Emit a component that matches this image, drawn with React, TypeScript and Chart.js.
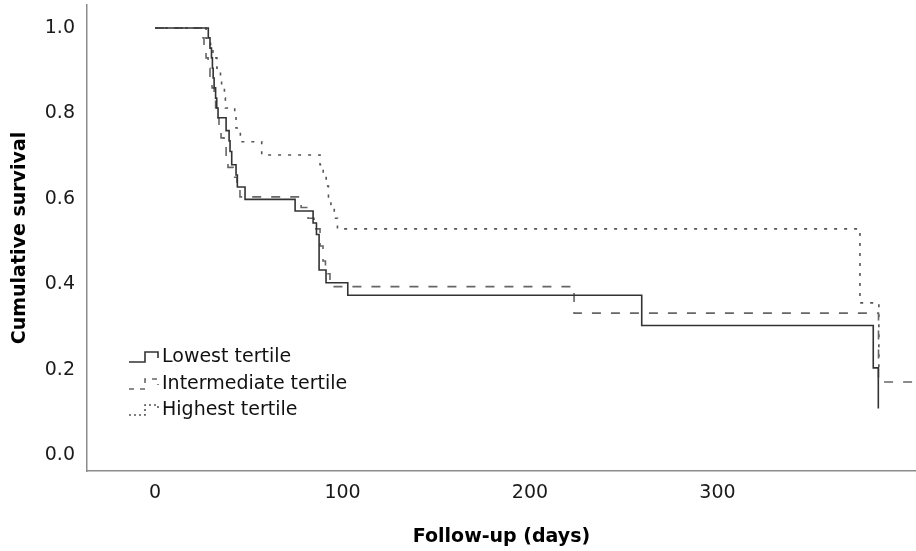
import React, { useEffect, useRef } from 'react';
import { Chart, registerables } from 'chart.js';

Chart.register(...registerables);

// ---- Data ----
const seriesLabels = ['Lowest tertile', 'Intermediate tertile', 'Highest tertile'];

// Event times (days) and survival after each event
const lowestTimes = [28.4, 29.3, 30.1, 30.6, 31.0, 31.5, 32.3, 32.9, 33.6, 37.9, 39.5, 40.0, 40.9, 43.2, 43.9, 48.0, 74.7, 84.3, 86.1, 87.5, 91.2, 102.8, 259.6, 383.1, 385.8];
const lowestSurv = [0.977, 0.953, 0.930, 0.906, 0.883, 0.860, 0.836, 0.813, 0.790, 0.760, 0.736, 0.711, 0.680, 0.656, 0.628, 0.599, 0.572, 0.544, 0.517, 0.434, 0.404, 0.375, 0.304, 0.205, 0.110];

const intermediateTimes = [25.1, 26.1, 27.2, 28.3, 29.3, 30.4, 31.5, 32.3, 33.1, 34.1, 35.2, 36.8, 37.9, 38.9, 41.6, 43.7, 45.3, 77.9, 81.6, 84.8, 88.0, 89.6, 90.9, 93.3, 223.5, 385.9];
const intermediateSurv = [0.977, 0.953, 0.930, 0.906, 0.883, 0.860, 0.836, 0.813, 0.790, 0.766, 0.743, 0.720, 0.697, 0.674, 0.651, 0.628, 0.605, 0.580, 0.555, 0.530, 0.490, 0.455, 0.425, 0.395, 0.333, 0.172];
const intermediateLastFollowUp = 420;

const highestTimes = [27.2, 29.6, 30.9, 33.0, 34.9, 35.5, 37.0, 37.5, 42.5, 43.2, 45.5, 56.9, 88.0, 89.7, 91.3, 92.5, 93.8, 95.6, 97.3, 376.0, 386.1];
const highestSurv = [0.976, 0.953, 0.930, 0.906, 0.883, 0.860, 0.836, 0.813, 0.790, 0.766, 0.734, 0.703, 0.680, 0.655, 0.630, 0.605, 0.580, 0.555, 0.530, 0.357, 0.205];

const xTickValues = [0, 100, 200, 300];
const yTickValues = [0, 0.2, 0.4, 0.6, 0.8, 1.0];

const FONT = 'DejaVu Sans';

type Pt = { x: number; y: number };

function stepPoints(times: number[], surv: number[], lastFollowUp?: number): Pt[] {
  const pts: Pt[] = [{ x: 0, y: 1 }];
  let prev = 1;
  times.forEach((t, i) => {
    pts.push({ x: t, y: prev });
    pts.push({ x: t, y: surv[i] });
    prev = surv[i];
  });
  if (lastFollowUp !== undefined) pts.push({ x: lastFollowUp, y: prev });
  return pts;
}

const styles = [
  { color: '#333333', dash: [] as number[], width: 1.6 },
  { color: '#666666', dash: [9, 10], width: 1.6 },
  { color: '#555555', dash: [3, 7], width: 1.6 },
];

const legendPlugin = {
  id: 'kmLegend',
  afterDatasetsDraw(chart: any) {
    const ctx = chart.ctx as CanvasRenderingContext2D;
    const rows = [357, 384, 410];
    ctx.save();
    seriesLabels.forEach((label, i) => {
      const c = rows[i];
      const s = styles[i];
      ctx.beginPath();
      ctx.setLineDash(s.dash.length ? [Math.max(2, s.dash[0] - 4), Math.max(2, s.dash[1] - 4)] : []);
      ctx.strokeStyle = s.color;
      ctx.lineWidth = s.width;
      ctx.moveTo(129, c + 5);
      ctx.lineTo(145, c + 5);
      ctx.lineTo(145, c - 5);
      ctx.lineTo(158, c - 5);
      ctx.lineTo(158, c + 1);
      ctx.stroke();
      ctx.setLineDash([]);
      ctx.fillStyle = '#111111';
      ctx.font = `19px "${FONT}"`;
      ctx.textAlign = 'left';
      ctx.textBaseline = 'middle';
      ctx.fillText(label, 162, c);
    });
    ctx.restore();
  },
};

export default function App() {
  const ref = useRef<HTMLCanvasElement | null>(null);

  useEffect(() => {
    if (!ref.current) return;
    const series = [
      stepPoints(lowestTimes, lowestSurv),
      stepPoints(intermediateTimes, intermediateSurv, intermediateLastFollowUp),
      stepPoints(highestTimes, highestSurv),
    ];
    const chart = new Chart(ref.current, {
      type: 'line',
      data: {
        datasets: series.map((pts, i) => ({
          label: seriesLabels[i],
          data: pts,
          borderColor: styles[i].color,
          borderWidth: styles[i].width,
          borderDash: styles[i].dash,
          pointRadius: 0,
          fill: false,
          tension: 0,
        })),
      },
      options: {
        animation: false,
        responsive: false,
        devicePixelRatio: 1,
        layout: { padding: { top: 5, left: 0, right: 0, bottom: 0 } },
        plugins: { legend: { display: false }, tooltip: { enabled: false } },
        scales: {
          x: {
            type: 'linear',
            min: -36.3,
            max: 405.9,
            grid: { display: false, drawTicks: false },
            border: { display: true, color: '#8c8c8c', width: 1.5 },
            ticks: {
              font: { family: FONT, size: 19 },
              color: '#1a1a1a',
              padding: 11,
              maxRotation: 0,
              callback: (v: any) => String(v),
            },
            afterBuildTicks: (s: any) => {
              s.ticks = xTickValues.map((v) => ({ value: v }));
            },
            afterFit: (s: any) => {
              s.height = 80;
              s.paddingLeft = 0;
              s.paddingRight = 0;
            },
            title: {
              display: true,
              text: 'Follow-up (days)',
              color: '#000000',
              font: { family: FONT, size: 19, weight: 'bold' },
              padding: { top: 0, bottom: 3 },
            },
          },
          y: {
            type: 'linear',
            min: -0.0363,
            max: 1.0538,
            grid: { display: false, drawTicks: false },
            border: { display: true, color: '#8c8c8c', width: 1.5 },
            ticks: {
              font: { family: FONT, size: 19 },
              color: '#1a1a1a',
              padding: 12,
              callback: (v: any) => Number(v).toFixed(1),
            },
            afterBuildTicks: (s: any) => {
              s.ticks = yTickValues.map((v) => ({ value: v }));
            },
            afterFit: (s: any) => {
              s.width = 87;
              s.paddingTop = 0;
              s.paddingBottom = 0;
            },
            title: {
              display: true,
              text: 'Cumulative survival',
              color: '#000000',
              font: { family: FONT, size: 19, weight: 'bold' },
              padding: { top: 9, bottom: 0 },
            },
          },
        },
      } as any,
      plugins: [legendPlugin],
    });
    return () => chart.destroy();
  }, []);

  return (
    <div style={{ position: 'fixed', left: 0, top: 0, width: 916, height: 551, background: '#ffffff' }}>
      <canvas ref={ref} width={916} height={551} style={{ width: 916, height: 551, display: 'block' }} />
    </div>
  );
}
